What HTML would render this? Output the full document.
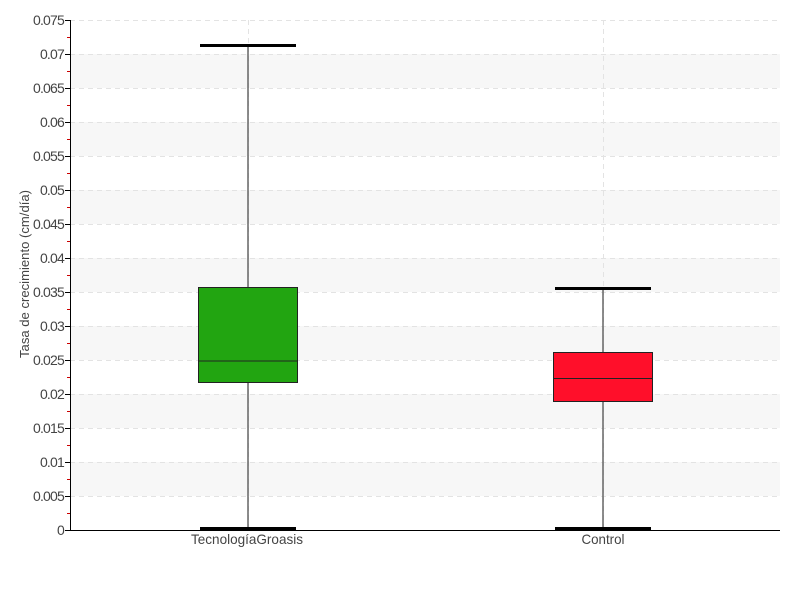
<!DOCTYPE html>
<html><head><meta charset="utf-8"><style>body{margin:0;background:#fff}svg{display:block}</style></head><body>
<svg width="800" height="600" xmlns="http://www.w3.org/2000/svg" font-family="Liberation Sans, sans-serif">
<rect width="800" height="600" fill="#fff"/>
<g fill="#f7f7f7">
<rect x="70" y="54" width="710" height="34"/><rect x="70" y="122" width="710" height="34"/>
<rect x="70" y="190" width="710" height="34"/><rect x="70" y="258" width="710" height="34"/>
<rect x="70" y="326" width="710" height="34"/><rect x="70" y="394" width="710" height="34"/>
<rect x="70" y="462" width="710" height="34"/>
</g>
<g stroke="#e3e3e3" stroke-dasharray="5,4" stroke-width="1">
<line x1="70" x2="780" y1="20.5" y2="20.5"/><line x1="70" x2="780" y1="54.5" y2="54.5"/>
<line x1="70" x2="780" y1="88.5" y2="88.5"/><line x1="70" x2="780" y1="122.5" y2="122.5"/>
<line x1="70" x2="780" y1="156.5" y2="156.5"/><line x1="70" x2="780" y1="190.5" y2="190.5"/>
<line x1="70" x2="780" y1="224.5" y2="224.5"/><line x1="70" x2="780" y1="258.5" y2="258.5"/>
<line x1="70" x2="780" y1="292.5" y2="292.5"/><line x1="70" x2="780" y1="326.5" y2="326.5"/>
<line x1="70" x2="780" y1="360.5" y2="360.5"/><line x1="70" x2="780" y1="394.5" y2="394.5"/>
<line x1="70" x2="780" y1="428.5" y2="428.5"/><line x1="70" x2="780" y1="462.5" y2="462.5"/>
<line x1="70" x2="780" y1="496.5" y2="496.5"/>
<line x1="248.5" x2="248.5" y1="20" y2="530"/><line x1="603.5" x2="603.5" y1="20" y2="530"/>
</g>
<g stroke="#cc0000" stroke-width="1">
<line x1="67" x2="70" y1="37.5" y2="37.5"/><line x1="67" x2="70" y1="71.5" y2="71.5"/><line x1="67" x2="70" y1="105.5" y2="105.5"/><line x1="67" x2="70" y1="139.5" y2="139.5"/><line x1="67" x2="70" y1="173.5" y2="173.5"/><line x1="67" x2="70" y1="207.5" y2="207.5"/><line x1="67" x2="70" y1="241.5" y2="241.5"/><line x1="67" x2="70" y1="275.5" y2="275.5"/><line x1="67" x2="70" y1="309.5" y2="309.5"/><line x1="67" x2="70" y1="343.5" y2="343.5"/><line x1="67" x2="70" y1="377.5" y2="377.5"/><line x1="67" x2="70" y1="411.5" y2="411.5"/><line x1="67" x2="70" y1="445.5" y2="445.5"/><line x1="67" x2="70" y1="479.5" y2="479.5"/><line x1="67" x2="70" y1="513.5" y2="513.5"/>
</g>
<g stroke="#000" stroke-width="1">
<line x1="70.5" x2="70.5" y1="20" y2="530"/><line x1="70" x2="780" y1="530.5" y2="530.5"/>
<line x1="65" x2="70" y1="20.5" y2="20.5"/><line x1="65" x2="70" y1="54.5" y2="54.5"/><line x1="65" x2="70" y1="88.5" y2="88.5"/><line x1="65" x2="70" y1="122.5" y2="122.5"/><line x1="65" x2="70" y1="156.5" y2="156.5"/><line x1="65" x2="70" y1="190.5" y2="190.5"/><line x1="65" x2="70" y1="224.5" y2="224.5"/><line x1="65" x2="70" y1="258.5" y2="258.5"/><line x1="65" x2="70" y1="292.5" y2="292.5"/><line x1="65" x2="70" y1="326.5" y2="326.5"/><line x1="65" x2="70" y1="360.5" y2="360.5"/><line x1="65" x2="70" y1="394.5" y2="394.5"/><line x1="65" x2="70" y1="428.5" y2="428.5"/><line x1="65" x2="70" y1="462.5" y2="462.5"/><line x1="65" x2="70" y1="496.5" y2="496.5"/><line x1="65" x2="70" y1="530.5" y2="530.5"/>
</g>
<g font-size="14" fill="#444" text-anchor="end" letter-spacing="-0.8">
<text x="64" y="25">0.075</text><text x="64" y="59">0.07</text><text x="64" y="93">0.065</text><text x="64" y="127">0.06</text><text x="64" y="161">0.055</text><text x="64" y="195">0.05</text><text x="64" y="229">0.045</text><text x="64" y="263">0.04</text><text x="64" y="297">0.035</text><text x="64" y="331">0.03</text><text x="64" y="365">0.025</text><text x="64" y="399">0.02</text><text x="64" y="433">0.015</text><text x="64" y="467">0.01</text><text x="64" y="501">0.005</text><text x="64" y="535">0</text>
</g>
<text transform="translate(29,274) rotate(-90)" font-size="13" fill="#444" text-anchor="middle" textLength="168" lengthAdjust="spacingAndGlyphs">Tasa de crecimiento (cm/día)</text>
<g font-size="14" fill="#444" text-anchor="middle">
<text x="247" y="544" textLength="112" lengthAdjust="spacingAndGlyphs">TecnologíaGroasis</text><text x="603" y="544" textLength="43" lengthAdjust="spacingAndGlyphs">Control</text>
</g>
<g stroke="#666" stroke-width="1.5">
<line x1="248" x2="248" y1="45" y2="529"/><line x1="603" x2="603" y1="288" y2="529"/>
</g>
<rect x="198.5" y="287.5" width="99" height="95" fill="#22a511" stroke="#222"/>
<line x1="198" x2="298" y1="361" y2="361" stroke="#222"/>
<rect x="553.5" y="352.5" width="99" height="49" fill="#ff0f2a" stroke="#222"/>
<line x1="553" x2="653" y1="378.5" y2="378.5" stroke="#222"/>
<g stroke="#000" stroke-width="3">
<line x1="200" x2="296" y1="45.5" y2="45.5"/><line x1="200" x2="296" y1="528.5" y2="528.5"/>
<line x1="555" x2="651" y1="288.5" y2="288.5"/><line x1="555" x2="651" y1="528.5" y2="528.5"/>
</g>
</svg>
</body></html>
